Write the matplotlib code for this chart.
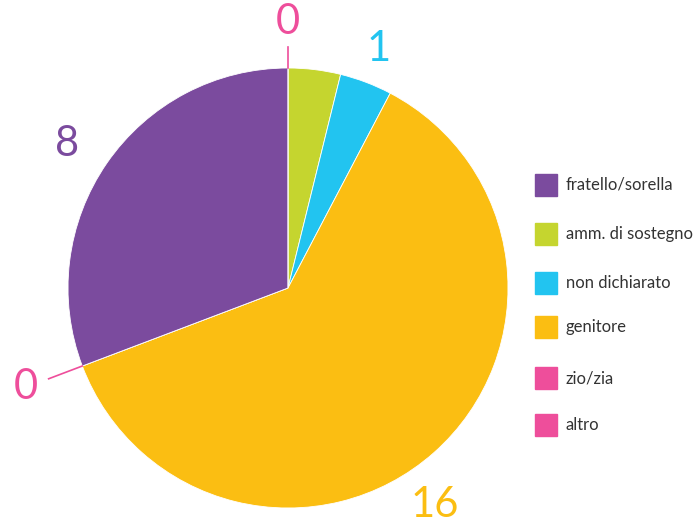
import matplotlib.pyplot as plt
import numpy as np

# slices in drawing order (clockwise from the top)
labels = ["amm. di sostegno", "non dichiarato", "genitore", "zio/zia", "fratello/sorella", "altro"]
values = [1, 1, 16, 0, 8, 0]
colors = ["#C5D52F", "#22C4F0", "#FBBE12", "#EE4E9B", "#7B4B9E", "#EE4E9B"]
show_label = [False, True, True, True, True, True]

# legend order
legend_labels = ["fratello/sorella", "amm. di sostegno", "non dichiarato", "genitore", "zio/zia", "altro"]
legend_colors = ["#7B4B9E", "#C5D52F", "#22C4F0", "#FBBE12", "#EE4E9B", "#EE4E9B"]

W, H = 697, 523
fig = plt.figure(figsize=(W / 100, H / 100), dpi=100)
ax = fig.add_axes([0, 0, 1, 1])

cx, cy, R = 288, H - 288, 220
wedges, _ = ax.pie(values, colors=colors, startangle=90, counterclock=False,
                   center=(cx, cy), radius=R, frame=True,
                   wedgeprops=dict(linewidth=0.6, edgecolor="white"))
ax.set_xlim(0, W)
ax.set_ylim(0, H)
ax.set_aspect("equal")
ax.axis("off")

# distance of each number from the centre (pixels)
label_dist = [0, 256, 262, 280, 264, 266]
num_font = dict(family=["Lato", "DejaVu Sans"], fontsize=30)
for i, w in enumerate(wedges):
    if not show_label[i]:
        continue
    mid = np.deg2rad((w.theta1 + w.theta2) / 2)
    if values[i] == 0:
        # leader line for empty slices
        ln = 36 if i == 3 else 21
        x1, y1 = cx + R * np.cos(mid), cy + R * np.sin(mid)
        x2, y2 = cx + (R + ln) * np.cos(mid), cy + (R + ln) * np.sin(mid)
        ax.plot([x1, x2], [y1, y2], color=colors[i], lw=1.2)
    if i == 2:
        mid = np.deg2rad(90 - 146)
    if i == 4:
        mid = np.deg2rad(90 - 303)
    d = label_dist[i]
    tx, ty = cx + d * np.cos(mid), cy + d * np.sin(mid)
    ax.text(tx, ty, str(values[i]), color=colors[i], ha="center", va="center", **num_font)

# legend
for k, (lab, col) in enumerate(zip(legend_labels, legend_colors)):
    y = H - [185, 234, 283, 327, 378, 425][k]
    ax.add_patch(plt.Rectangle((535, y - 11), 22, 22, color=col))
    ax.text(566, y, lab, color="#333333", fontsize=12, va="center",
            family=["Lato", "DejaVu Sans"])

fig.savefig("out.png", dpi=100)
